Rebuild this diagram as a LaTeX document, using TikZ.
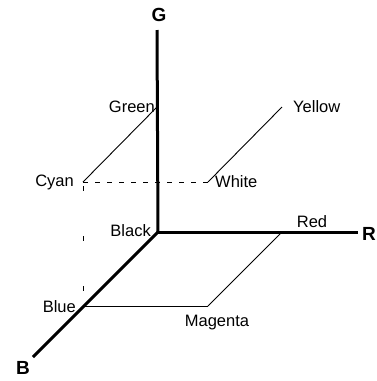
\documentclass[tikz,border=0pt]{standalone}
\usepackage{fontspec}
\setmainfont{Liberation Sans}
\begin{document}
\begin{tikzpicture}[x=1pt,y=-1pt,
  axis/.style={line width=3pt},
  edge/.style={line width=0.9pt},
  hid/.style={line width=0.9pt,dash pattern=on 5pt off 7pt},
  vhid/.style={line width=0.9pt,dash pattern=on 5pt off 45pt,dash phase=-4pt},
  lab/.style={font=\fontsize{16.5}{19}\selectfont,inner sep=0pt},
  axlab/.style={font=\fontsize{19}{21}\selectfont\bfseries,inner sep=0pt},
  pt/.style={inner sep=0pt,minimum size=0pt}]
\useasboundingbox (0,0) rectangle (376,381);
% corner points
\coordinate (black) at (158,232);
\coordinate (gend) at (157,30);
\coordinate (rend) at (358,232);
\coordinate (bend) at (33,357);
\coordinate (green) at (157,107);
\coordinate (cyan) at (83,182);
\coordinate (white) at (208,182);
\coordinate (yellow) at (282,107);
\coordinate (red) at (282,232);
\coordinate (blue) at (83,306);
\coordinate (magenta) at (208,306);
% thin edges
\draw[edge] (green) -- (cyan);
\draw[edge] (white) -- (yellow);
\draw[hid] (cyan) -- (white);
\draw[vhid] (cyan) -- (blue);
\draw[edge] (blue) -- (magenta);
\draw[edge] (magenta) -- (red);
% axes
\draw[axis] (black) -- (gend);
\draw[axis] (black) -- (rend);
\draw[axis] (black) -- (bend);
% labels
\node[axlab] (G) at (159,15) {G};
\node[axlab] (R) at (369,234) {R};
\node[axlab] (B) at (23,368) {B};
\node[lab,anchor=east] (tgreen) at (155,107) {Green};
\node[lab,anchor=west] (tyellow) at (293,107) {Yellow};
\node[lab,anchor=east] (tcyan) at (74,182) {Cyan};
\node[lab,anchor=west] (twhite) at (215,182) {White};
\node[lab,anchor=east] (tblack) at (151,231) {Black};
\node[lab] (tred) at (312,222) {Red};
\node[lab,anchor=east] (tblue) at (76,307) {Blue};
\node[lab] (tmagenta) at (217,323) {Magenta};
\end{tikzpicture}
\end{document}
